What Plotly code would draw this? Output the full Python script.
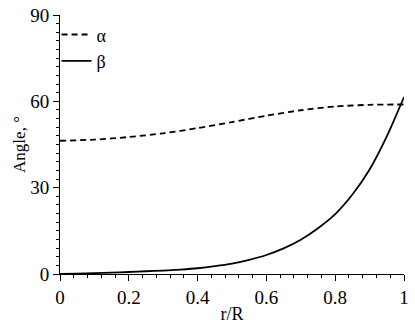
import plotly.graph_objects as go

r_alpha = [0.0, 0.1, 0.2, 0.3, 0.4, 0.5, 0.6, 0.7, 0.8, 0.9, 1.0]
alpha = [46.3, 46.7, 47.6, 48.9, 50.7, 52.8, 55.0, 56.9, 58.2, 58.8, 58.9]

r_beta = [0.0, 0.05, 0.1, 0.15, 0.2, 0.25, 0.3, 0.35, 0.4, 0.45, 0.5, 0.55, 0.6,
          0.65, 0.7, 0.75, 0.8, 0.85, 0.9, 0.95, 1.0]
beta = [0.0, 0.1, 0.3, 0.5, 0.7, 0.95, 1.2, 1.55, 2.0, 2.7, 3.6, 4.9, 6.6,
        8.9, 11.9, 15.9, 20.8, 27.6, 36.3, 47.8, 61.5]

x_ticks = [0, 0.2, 0.4, 0.6, 0.8, 1]
x_labels = ["0", "0.2", "0.4", "0.6", "0.8", "1"]
y_ticks = [0, 30, 60, 90]

serif = "'Liberation Serif', 'Times New Roman', Times, serif"
font = dict(family=serif, size=19, color="black")

fig = go.Figure()
fig.add_trace(go.Scatter(x=r_alpha, y=alpha, mode="lines", name="α",
                         line=dict(color="black", width=1.8, dash="6px,4px",
                                   shape="spline", smoothing=0.8)))
fig.add_trace(go.Scatter(x=r_beta, y=beta, mode="lines", name="β",
                         line=dict(color="black", width=1.8, shape="spline", smoothing=0.6)))

fig.update_layout(
    width=415, height=326,
    margin=dict(l=60, r=11, t=15, b=52),
    paper_bgcolor="white", plot_bgcolor="white",
    font=font,
    showlegend=True,
    legend=dict(x=-0.01, y=0.995, xanchor="left", yanchor="top",
                bgcolor="rgba(0,0,0,0)",
                font=dict(family=serif, size=18, color="black"), itemwidth=30),
    xaxis=dict(range=[0, 1], tickvals=x_ticks, ticktext=x_labels, automargin=False,
               tickfont=dict(family=serif, size=19, color="black"),
               showline=True, linecolor="black", linewidth=1,
               ticks="outside", ticklen=6, tickcolor="black",
               showgrid=False, zeroline=False,
               minor=dict(dtick=0.04, ticks="outside", ticklen=3, tickcolor="black", showgrid=False),
               title=dict(text="r/R", standoff=0,
                          font=dict(family=serif, size=18, color="black"))),
    yaxis=dict(range=[0, 90], tickvals=y_ticks, automargin=False,
               tickfont=dict(family=serif, size=19, color="black"),
               showline=True, linecolor="black", linewidth=1,
               ticks="outside", ticklen=6, tickcolor="black",
               showgrid=False, zeroline=False,
               minor=dict(dtick=3, ticks="outside", ticklen=3, tickcolor="black", showgrid=False),
               title=dict(text="Angle, °", standoff=0,
                          font=dict(family=serif, size=17, color="black"))),
)

fig.write_html("out.html", config={"displayModeBar": False},
               post_script="document.body.style.margin='0px';")
